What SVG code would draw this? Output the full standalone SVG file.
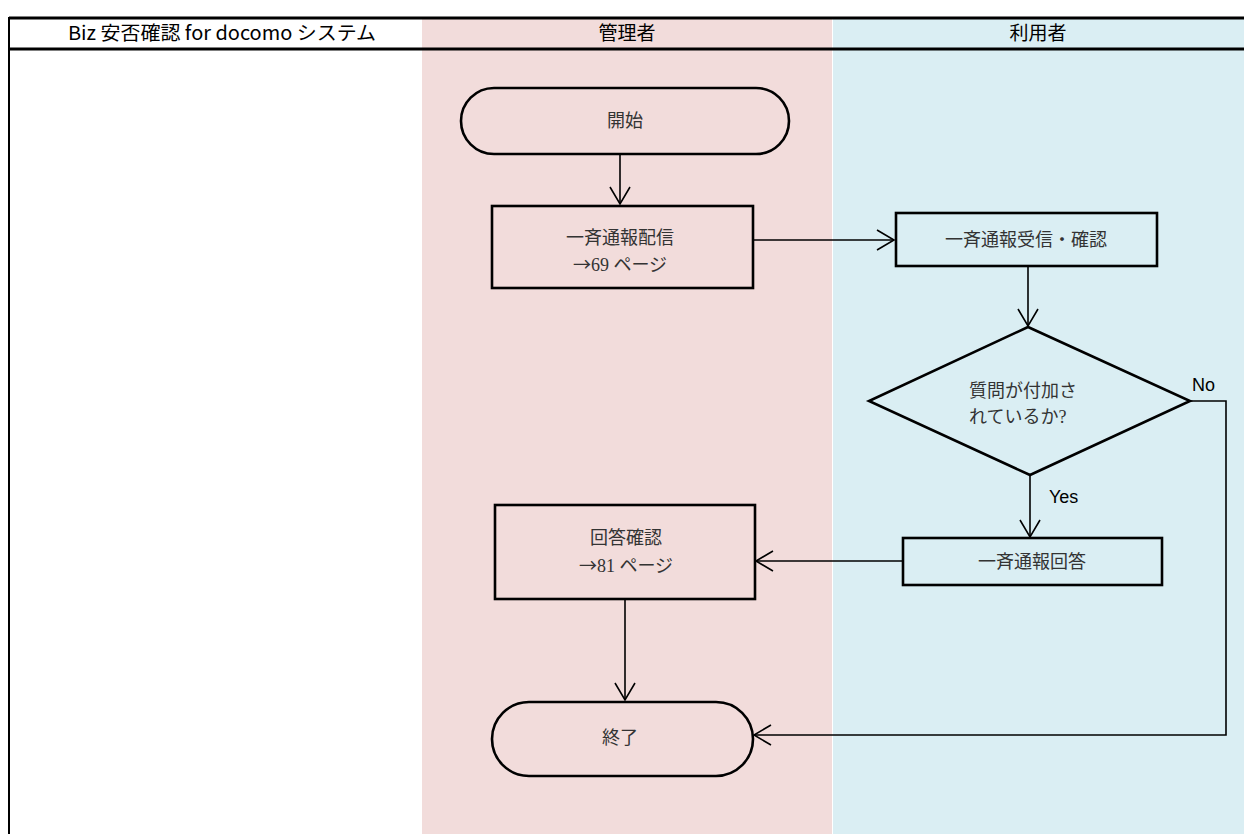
<svg xmlns="http://www.w3.org/2000/svg" width="1244" height="834" viewBox="0 0 1244 834">
<defs>
<marker id="arr" markerWidth="20" markerHeight="24" refX="18" refY="12" orient="auto" markerUnits="userSpaceOnUse">
<path d="M1,2 L18,12 L1,22" fill="none" stroke="#000" stroke-width="1.6"/>
</marker>
<style>
.node{fill:none;stroke:#000;stroke-width:2.6}
.t{font-family:"Liberation Serif","Noto Sans CJK JP",serif;font-size:18px;fill:#333;text-anchor:middle}
.ar{font-family:"Noto Sans CJK JP",sans-serif}
.h{font-family:"Noto Sans CJK JP","Liberation Sans",sans-serif;font-size:19px;fill:#000;text-anchor:middle}
.lbl{font-family:"Liberation Sans",Arial,sans-serif;font-size:18px;fill:#000}
.conn{fill:none;stroke:#000;stroke-width:1.6}
</style>
</defs>
<rect x="0" y="0" width="1244" height="834" fill="#fff"/>
<g id="lanes">
<rect x="422" y="18" width="410" height="816" fill="#f2dcdb"/>
<rect x="833" y="18" width="411" height="816" fill="#daeef3"/>
<line x1="9" y1="18" x2="1244" y2="18" stroke="#000" stroke-width="3"/>
<line x1="9" y1="49" x2="1244" y2="49" stroke="#000" stroke-width="3"/>
<line x1="9" y1="17" x2="9" y2="834" stroke="#000" stroke-width="2"/>
<text class="h" x="222" y="40" textLength="308" lengthAdjust="spacingAndGlyphs">Biz 安否確認 for docomo システム</text>
<text class="h" x="627" y="40">管理者</text>
<text class="h" x="1038" y="40">利用者</text>
</g>
<g id="connectors">
<path class="conn" d="M620,154 V204" marker-end="url(#arr)"/>
<path class="conn" d="M753,240 H894" marker-end="url(#arr)"/>
<path class="conn" d="M1028,266 V326" marker-end="url(#arr)"/>
<path class="conn" d="M1030,475 V537" marker-end="url(#arr)"/>
<path class="conn" d="M903,561 H756" marker-end="url(#arr)"/>
<path class="conn" d="M625,599 V700" marker-end="url(#arr)"/>
<path class="conn" d="M1190,401 H1226 V735 H754" marker-end="url(#arr)"/>
<text class="lbl" x="1192" y="391">No</text>
<text class="lbl" x="1049" y="503">Yes</text>
</g>
<g id="start">
<rect class="node" x="461" y="88" width="328" height="66" rx="33" ry="33"/>
<text class="t" x="625" y="127">開始</text>
</g>
<g id="send">
<rect class="node" x="492" y="206" width="261" height="82"/>
<text class="t" x="620" y="244">一斉通報配信</text>
<text class="t" x="620" y="271"><tspan class="ar">→</tspan>69 ページ</text>
</g>
<g id="receive">
<rect class="node" x="896" y="213" width="261" height="53"/>
<text class="t" x="1026" y="246">一斉通報受信・確認</text>
</g>
<g id="decision">
<polygon class="node" points="1028,327 1190,401 1030,475 869,401"/>
<text class="t" x="969" y="397" style="text-anchor:start">質問が付加さ</text>
<text class="t" x="969" y="423" style="text-anchor:start">れているか?</text>
</g>
<g id="answer">
<rect class="node" x="903" y="538" width="259" height="47"/>
<text class="t" x="1032" y="568">一斉通報回答</text>
</g>
<g id="check">
<rect class="node" x="495" y="505" width="260" height="94"/>
<text class="t" x="626" y="544">回答確認</text>
<text class="t" x="626" y="572"><tspan class="ar">→</tspan>81 ページ</text>
</g>
<g id="end">
<rect class="node" x="492" y="702" width="261" height="74" rx="37" ry="37"/>
<text class="t" x="620" y="744">終了</text>
</g>
</svg>
